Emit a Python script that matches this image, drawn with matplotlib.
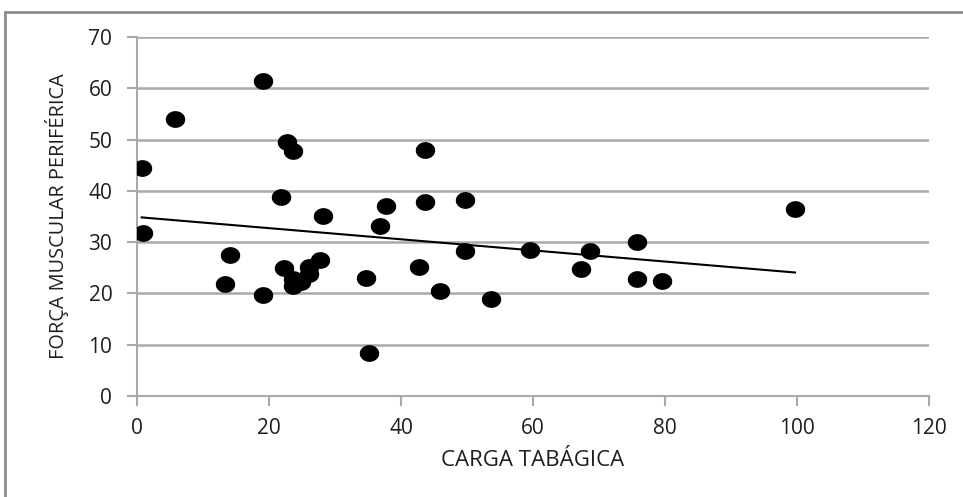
import matplotlib.pyplot as plt
from matplotlib.patches import Rectangle
import numpy as np

plt.rcParams['font.family'] = ['Open Sans', 'DejaVu Sans']

# carga tabagica (x) vs forca muscular periferica (y)
carga = [19.1, 5.8, 0.7, 22.8, 23.7, 21.8, 28.2, 0.9,
         14.1, 13.3, 19.1, 22.3, 23.7, 23.7, 24.9, 26.0, 26.0, 27.8, 34.7, 35.1,
         43.6, 37.8, 43.6, 49.7, 36.8, 49.7, 42.7, 45.9, 53.6, 59.6, 67.3, 68.7,
         75.7, 75.7, 79.6, 99.7]
forca = [61.4, 54.0, 44.5, 49.5, 47.8, 38.8, 35.1, 31.8,
         27.4, 21.8, 19.7, 25.0, 22.9, 21.4, 22.3, 25.2, 23.8, 26.5, 23.1, 8.3,
         48.0, 37.0, 37.8, 38.2, 33.2, 28.3, 25.2, 20.5, 19.0, 28.4, 24.8, 28.2,
         30.1, 22.8, 22.4, 36.4]

x_ticks = [0, 20, 40, 60, 80, 100, 120]
y_ticks = [0, 10, 20, 30, 40, 50, 60, 70]

grid_col = '#a9a9a9'
text_col = '#1e1e1e'

fig = plt.figure(figsize=(9.63, 4.97), dpi=100)
ax = fig.add_axes([137 / 963, 1 - 396 / 497, 792 / 963, 359 / 497])

# slightly wide ellipse marker, like the original
t = np.linspace(0, 2 * np.pi, 40)
ell = list(zip(np.cos(t), 0.85 * np.sin(t)))

ax.plot(carga, forca, linestyle='none', marker=ell, markersize=13,
        color='black', zorder=3)

# linear trendline over the data range
k, b = np.polyfit(carga, forca, 1)
xs = np.array([min(carga), max(carga)])
ax.plot(xs, k * xs + b, color='black', lw=1.5, zorder=2)

ax.set_xlim(0, 120)
ax.set_ylim(0, 70)
ax.set_xticks(x_ticks)
ax.set_yticks(y_ticks)
ax.yaxis.grid(True, color=grid_col, lw=1.8)
ax.set_axisbelow(True)

for s in ['top', 'right']:
    ax.spines[s].set_visible(False)
for s in ['left', 'bottom']:
    ax.spines[s].set_color(grid_col)
    ax.spines[s].set_linewidth(1.5)

ax.tick_params(axis='both', colors=grid_col, labelcolor=text_col,
               labelsize=15, width=1.5, length=7)
ax.tick_params(axis='x', pad=8.8)
ax.tick_params(axis='y', pad=10.8)

ax.set_xlabel('CARGA TABÁGICA', fontsize=16, color=text_col, labelpad=8)
ax.set_ylabel('FORÇA MUSCULAR PERIFÉRICA', fontsize=14.3, color=text_col,
              labelpad=14)

# outer frame of the chart area (runs off the right and bottom)
fig.patches.append(Rectangle((5 / 963, -0.1), 1.1, 1 - 12 / 497 + 0.1,
                             transform=fig.transFigure, fill=False,
                             edgecolor='#8c8c8c', lw=2))

fig.savefig('out.png', dpi=100)
